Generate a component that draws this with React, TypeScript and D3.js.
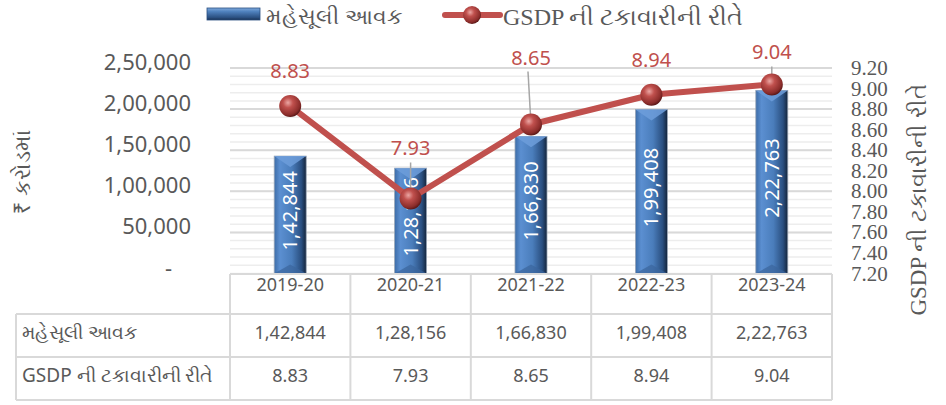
import React from "react";
import * as d3 from "d3";

const years = ["2019-20", "2020-21", "2021-22", "2022-23", "2023-24"];
const revenue = [142844, 128156, 166830, 199408, 222763];
const gsdpShare = [8.83, 7.93, 8.65, 8.94, 9.04];
const revenueTicks = [0, 50000, 100000, 150000, 200000, 250000];
const shareTicks = [7.2, 7.4, 7.6, 7.8, 8.0, 8.2, 8.4, 8.6, 8.8, 9.0, 9.2];

const barName = "મહેસૂલી આવક";
const lineName = "GSDP ની ટકાવારીની રીતે";
const leftTitle = "₹ કરોડમાં";

// how far each value label sits above its point (the labels were dragged in the source)
const labelLift = [35, 50, 67, 35, 32];
const hasLeader = [false, true, true, false, true];

const W = 946;
const H = 405;
const plotLeft = 230;
const plotRight = 832;
const plotTop = 68;
const plotBottom = 273.5;
const rowEdges = [274, 314, 357, 400];
const tableLeft = 16;

const sans = "'Noto Sans', 'Open Sans', sans-serif";
const serif = "'Liberation Serif', 'DejaVu Serif', serif";
const grey = "#595959";
const red = "#c0504d";
const border = "#d9d9d9";

// Indian digit grouping: 1,42,844
const indian = (v: number) => {
  const s = String(Math.round(v));
  if (s.length <= 3) return s;
  const last = s.slice(-3);
  let rest = s.slice(0, -3);
  const parts: string[] = [];
  while (rest.length > 2) {
    parts.unshift(rest.slice(-2));
    rest = rest.slice(0, -2);
  }
  if (rest) parts.unshift(rest);
  return parts.join(",") + "," + last;
};

export default function App() {
  const x = d3.scaleBand<string>().domain(years).range([plotLeft, plotRight]).padding(0);
  const yL = d3.scaleLinear().domain([0, 250000]).range([plotBottom, plotTop]);
  const yR = d3.scaleLinear().domain([7.2, 9.2]).range([plotBottom, plotTop]);
  const barW = 32;
  const cx = (i: number) => (x(years[i]) as number) + x.bandwidth() / 2;

  const minor = d3.range(0, 250001, 10000);
  const line = d3
    .line<number>()
    .x((_, i) => cx(i))
    .y((d) => yR(d));

  const colEdges = [plotLeft, ...years.map((yr) => (x(yr) as number) + x.bandwidth())];

  return (
    <svg width={W} height={H} style={{ position: "absolute", left: 0, top: 0 }}>
      <defs>
        <linearGradient id="barGrad" x1="0" x2="1" y1="0" y2="0">
          <stop offset="0" stopColor="#3d6da8" />
          <stop offset="0.18" stopColor="#5b8fd1" />
          <stop offset="0.55" stopColor="#4a7dbb" />
          <stop offset="0.85" stopColor="#2a4f80" />
          <stop offset="1" stopColor="#14243a" />
        </linearGradient>
        <linearGradient id="swatchGrad" x1="0" x2="0" y1="0" y2="1">
          <stop offset="0" stopColor="#7ea9dd" />
          <stop offset="0.3" stopColor="#4f81bd" />
          <stop offset="0.8" stopColor="#2a4f80" />
          <stop offset="1" stopColor="#1a3152" />
        </linearGradient>
        <radialGradient id="ball" cx="0.4" cy="0.35" r="0.65">
          <stop offset="0" stopColor="#eba6a3" />
          <stop offset="0.35" stopColor="#c0504d" />
          <stop offset="0.85" stopColor="#8a2c2a" />
          <stop offset="1" stopColor="#5e1a19" />
        </radialGradient>
      </defs>

      {/* gridlines */}
      {minor.map((t) => (
        <line key={"m" + t} x1={plotLeft} x2={plotRight} y1={yL(t)} y2={yL(t)} stroke="#ededed" strokeWidth={1.5} />
      ))}
      {revenueTicks.slice(1).map((t) => (
        <line key={"g" + t} x1={plotLeft} x2={plotRight} y1={yL(t)} y2={yL(t)} stroke={border} strokeWidth={2} />
      ))}

      {/* left axis */}
      {revenueTicks.map((t) => (
        <text key={"l" + t} x={t === 0 ? 172 : 191} y={yL(t) + 2} textAnchor="end" fontFamily={sans} fontSize={22} fill={grey}>
          {t === 0 ? "-" : indian(t)}
        </text>
      ))}
      <text transform="translate(30,172) rotate(-90)" textAnchor="middle" fontFamily={sans} fontSize={22} fill={grey}>
        {leftTitle}
      </text>

      {/* right axis */}
      {shareTicks.map((t) => (
        <text key={"r" + t} x={851} y={yR(t) + 7} fontFamily={serif} fontSize={21} fill={grey}>
          {t.toFixed(2)}
        </text>
      ))}
      <text transform="translate(926,200) rotate(-90)" textAnchor="middle" fontFamily={serif} fontSize={23} fill={grey}>
        {lineName}
      </text>

      {/* bars */}
      {revenue.map((v, i) => {
        const x0 = cx(i) - barW / 2;
        const top = yL(v);
        return (
          <g key={"b" + i}>
            <rect x={x0} y={top} width={barW} height={plotBottom - top} fill="url(#barGrad)" stroke="#9aa7b8" strokeWidth={0.8} />
            <polygon
              points={`${x0},${top} ${x0 + barW},${top} ${cx(i)},${top + 11}`}
              fill="#6d9ddb"
              opacity={0.85}
            />
            <polygon
              points={`${x0},${plotBottom} ${x0 + barW},${plotBottom} ${cx(i)},${plotBottom - 9}`}
              fill="#3a659c"
              opacity={0.7}
            />
          </g>
        );
      })}
      {revenue.map((v, i) => (
        <text
          key={"bl" + i}
          transform={`translate(${cx(i) + 7},${(yL(v) + plotBottom) / 2 - 4}) rotate(-90)`}
          textAnchor="middle"
          fontFamily={sans}
          fontSize={20}
          fill="#ffffff"
        >
          {indian(v)}
        </text>
      ))}

      {/* leader lines */}
      {gsdpShare.map((v, i) =>
        hasLeader[i] ? (
          <line
            key={"ld" + i}
            x1={cx(i) - (i === 2 ? 3 : 0)}
            y1={yR(v) - labelLift[i] + 14}
            x2={cx(i)}
            y2={yR(v)}
            stroke="#a6a6a6"
            strokeWidth={1.5}
          />
        ) : null
      )}

      {/* line series */}
      <path d={line(gsdpShare) as string} fill="none" stroke={red} strokeWidth={6} strokeLinejoin="round" />
      {gsdpShare.map((v, i) => (
        <circle key={"p" + i} cx={cx(i)} cy={yR(v)} r={11} fill="url(#ball)" />
      ))}
      {gsdpShare.map((v, i) => (
        <text
          key={"pl" + i}
          x={cx(i)}
          y={yR(v) - labelLift[i] + 7}
          textAnchor="middle"
          fontFamily={sans}
          fontSize={20}
          fill={red}
        >
          {v.toFixed(2)}
        </text>
      ))}

      {/* data table */}
      <g stroke={border} strokeWidth={2}>
        <line x1={plotLeft} x2={plotRight} y1={rowEdges[0]} y2={rowEdges[0]} />
        {rowEdges.slice(1).map((r) => (
          <line key={"h" + r} x1={tableLeft} x2={plotRight} y1={r} y2={r} />
        ))}
        <line x1={tableLeft} x2={tableLeft} y1={rowEdges[1]} y2={rowEdges[3]} />
        {colEdges.map((c) => (
          <line key={"v" + c} x1={c} x2={c} y1={rowEdges[0]} y2={rowEdges[3]} />
        ))}
      </g>
      {years.map((yr, i) => (
        <g key={"t" + yr} fontFamily={sans} fontSize={18} fill={grey} textAnchor="middle">
          <text x={cx(i)} y={(rowEdges[0] + rowEdges[1]) / 2 - 3}>{yr}</text>
          <text x={cx(i)} y={(rowEdges[1] + rowEdges[2]) / 2 + 3}>{indian(revenue[i])}</text>
          <text x={cx(i)} y={(rowEdges[2] + rowEdges[3]) / 2 + 3}>{gsdpShare[i].toFixed(2)}</text>
        </g>
      ))}
      <text x={22} y={(rowEdges[1] + rowEdges[2]) / 2 + 3} fontFamily={sans} fontSize={19} fill={grey}>
        {barName}
      </text>
      <text x={22} y={(rowEdges[2] + rowEdges[3]) / 2 + 3} fontFamily={sans} fontSize={19} fill={grey}>
        {lineName}
      </text>

      {/* legend */}
      <rect x={207} y={8} width={53} height={12} fill="url(#swatchGrad)" stroke="#2a4f80" strokeWidth={0.8} />
      <text x={266} y={24} fontFamily={sans} fontSize={22} fill={grey}>
        {barName}
      </text>
      <line x1={445} x2={500} y1={15} y2={15} stroke={red} strokeWidth={6} strokeLinecap="round" />
      <circle cx={472} cy={15} r={9} fill="url(#ball)" />
      <text x={503} y={25} fontFamily={serif} fontSize={24} fill={grey}>
        {lineName}
      </text>
    </svg>
  );
}
